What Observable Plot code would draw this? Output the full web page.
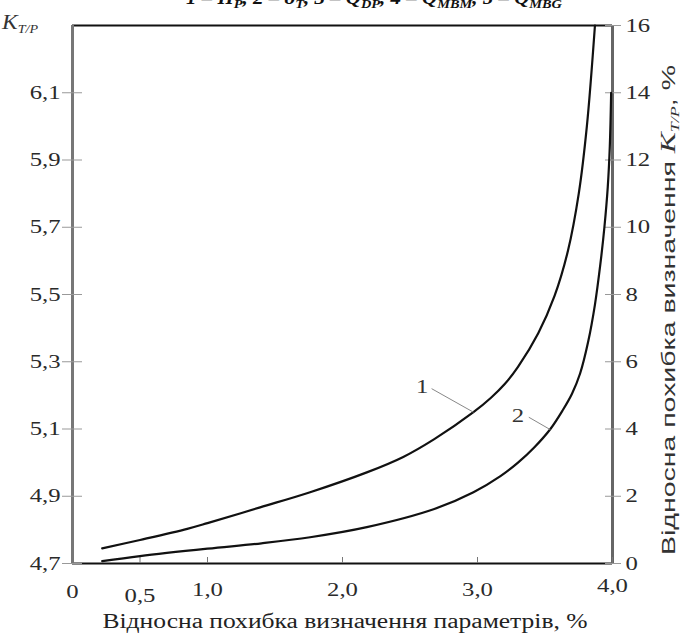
<!DOCTYPE html>
<html><head><meta charset="utf-8">
<script src="https://cdn.jsdelivr.net/npm/d3@7"></script>
<script src="https://cdn.jsdelivr.net/npm/@observablehq/plot@0.6"></script>
<style>body{margin:0;background:#fff} svg{display:block}</style>
</head><body><div id="chart"></div>
<script>
// ---- data ----
const xTicks = [0, 0.5, 1, 2, 3, 4];
const xTickLabels = ["0", "0,5", "1,0", "2,0", "3,0", "4,0"];
const rightTicks = [0, 2, 4, 6, 8, 10, 12, 14, 16];
const leftTickPos = [0, 2, 4, 6, 8, 10, 12, 14];
const leftTickLabels = ["4,7", "4,9", "5,1", "5,3", "5,5", "5,7", "5,9", "6,1"];

const curve1X = [0.22, 0.5, 0.85, 1.0, 1.39, 1.76, 2.18, 2.45, 2.68, 2.97, 3.1, 3.2, 3.3, 3.45, 3.57, 3.67, 3.75, 3.81, 3.87];
const curve1Y = [0.45, 0.7, 1.03, 1.2, 1.67, 2.12, 2.71, 3.17, 3.7, 4.5, 4.93, 5.33, 5.85, 6.85, 7.95, 9.3, 11.0, 13.0, 16];
const curve2X = [0.22, 0.5, 1.0, 1.4, 1.76, 2.18, 2.68, 2.97, 3.17, 3.3, 3.42, 3.54, 3.63, 3.7, 3.76, 3.82, 3.87, 3.91, 3.94, 3.965, 3.98, 3.99];
const curve2Y = [0.07, 0.22, 0.44, 0.6, 0.78, 1.08, 1.62, 2.12, 2.6, 3.0, 3.45, 4.0, 4.55, 5.05, 5.65, 6.6, 7.7, 8.9, 10.0, 11.2, 12.4, 14];

const curveLabels = ["1", "2"];
const labelX = [2.59, 3.30];
const labelY = [5.24, 4.40];
const leaderX1 = [2.66, 3.38], leaderY1 = [5.2, 4.35];
const leaderX2 = [2.97, 3.54], leaderY2 = [4.5, 3.98];

const lines = [
  ...curve1X.map((x, i) => ({x, y: curve1Y[i], k: "1"})),
  ...curve2X.map((x, i) => ({x, y: curve2Y[i], k: "2"}))
];
const labels = curveLabels.map((t, i) => ({t, x: labelX[i], y: labelY[i], x1: leaderX1[i], y1: leaderY1[i], x2: leaderX2[i], y2: leaderY2[i]}));
const xl = d => xTickLabels[xTicks.indexOf(d)];

const plot = Plot.plot({
  width: 691, height: 637,
  marginLeft: 72, marginRight: 79, marginTop: 25, marginBottom: 74,
  x: {domain: [0, 4], axis: null},
  y: {domain: [0, 16], axis: null},
  style: {fontFamily: "'Liberation Serif', serif", fontSize: "19px", color: "#2a2a2a", background: "#fff", overflow: "visible"},
  marks: [
    // frame
    Plot.ruleY([0], {stroke: "#111", strokeWidth: 2}),
    Plot.ruleY([16], {stroke: "#111", strokeWidth: 2}),
    Plot.ruleX([0], {stroke: "#777", strokeWidth: 3}),
    Plot.ruleX([4], {stroke: "#666", strokeWidth: 3}),
    // ticks crossing the axes
    Plot.axisY({ticks: leftTickPos, anchor: "left", tickSize: 20, dx: 10, fill: "none", stroke: "#999", label: null}),
    Plot.axisY({ticks: rightTicks, anchor: "right", tickSize: 16, dx: -8, fill: "none", stroke: "#999", label: null}),
    Plot.axisX({ticks: xTicks, anchor: "bottom", tickSize: 6, dy: -6, fill: "none", stroke: "#777", label: null}),
    // tick labels
    Plot.axisY({ticks: leftTickPos, anchor: "left", tickSize: 0, tickPadding: 12, tickFormat: d => leftTickLabels[leftTickPos.indexOf(d)], label: null}),
    Plot.axisY({ticks: rightTicks, anchor: "right", tickSize: 0, tickPadding: 13, label: null}),
    Plot.axisX({ticks: [1, 2, 3], anchor: "bottom", tickSize: 0, tickPadding: 19, tickFormat: xl, label: null}),
    Plot.axisX({ticks: [0], anchor: "bottom", tickSize: 0, tickPadding: 21, tickFormat: xl, label: null}),
    Plot.axisX({ticks: [0.5], anchor: "bottom", tickSize: 0, tickPadding: 25, tickFormat: xl, label: null}),
    Plot.axisX({ticks: [4], anchor: "bottom", tickSize: 0, tickPadding: 15, tickFormat: xl, label: null}),
    // curves
    Plot.line(lines, {x: "x", y: "y", z: "k", stroke: "#111", strokeWidth: 2.2, curve: "catmull-rom"}),
    // curve labels
    Plot.link(labels, {x1: "x1", y1: "y1", x2: "x2", y2: "y2", stroke: "#888", strokeWidth: 1}),
    Plot.text(labels, {x: "x", y: "y", text: "t", fill: "#333", fontSize: 19})
  ]
});

document.getElementById("chart").appendChild(plot);
const svg = d3.select(plot);

// widen tick labels like the (horizontally stretched) original
svg.selectAll("g[aria-label$='tick label'] text, g[aria-label='text'] text").each(function() {
  const len = this.getComputedTextLength();
  if (len > 0) { this.setAttribute("textLength", len * 1.3); this.setAttribute("lengthAdjust", "spacingAndGlyphs"); }
});

// title cut at the top (as in the reference)
const title = svg.append("text").attr("x", 374).attr("y", 4).attr("text-anchor", "middle")
  .attr("font-family", "'Liberation Serif', serif").attr("font-size", 19).attr("font-weight", "bold").attr("font-style", "italic").attr("fill", "#111");
const parts = [["1 – П", ""], ["P", "sub"], [", 2 – δ", ""], ["T", "sub"], [", 3 – Q", ""], ["DP", "sub"], [", 4 – Q", ""], ["MBM", "sub"], [", 5 – Q", ""], ["MBG", "sub"]];
let sub = false;
parts.forEach(([t, k]) => {
  const ts = title.append("tspan").text(t);
  if (k === "sub" && !sub) { ts.attr("dy", 4).attr("font-size", 13); sub = true; }
  else if (k !== "sub" && sub) { ts.attr("dy", -4); sub = false; }
  else if (k === "sub") ts.attr("font-size", 13);
});
title.attr("textLength", 376).attr("lengthAdjust", "spacingAndGlyphs");

// left axis name K_T/P
const kl = svg.append("text").attr("x", 20).attr("y", 29).attr("font-family", "'Liberation Serif', serif").attr("font-style", "italic").attr("fill", "#333");
kl.append("tspan").attr("font-size", 20).text("K");
kl.append("tspan").attr("font-size", 12).attr("dy", 4).text("T/P");
kl.attr("textLength", 36).attr("lengthAdjust", "spacingAndGlyphs");

// bottom axis title
svg.append("text").attr("x", 345).attr("y", 628).attr("text-anchor", "middle")
  .attr("font-family", "'Liberation Serif', serif").attr("font-size", 20).attr("fill", "#222")
  .attr("textLength", 485).attr("lengthAdjust", "spacingAndGlyphs")
  .text("Відносна похибка визначення параметрів, %");

// right axis title
const rt = svg.append("text").attr("transform", "translate(675,310) rotate(-90)").attr("text-anchor", "middle")
  .attr("font-family", "'Liberation Sans', sans-serif").attr("font-size", 19).attr("fill", "#333");
rt.append("tspan").text("Відносна похибка визначення ");
rt.append("tspan").attr("font-family", "'Liberation Serif', serif").attr("font-style", "italic").attr("font-size", 21).text("K");
rt.append("tspan").attr("font-family", "'Liberation Serif', serif").attr("font-style", "italic").attr("font-size", 12).attr("dy", 4).text("T/P");
rt.append("tspan").attr("dy", -4).text(", %");
rt.attr("textLength", 490).attr("lengthAdjust", "spacingAndGlyphs");
</script>
</body></html>
